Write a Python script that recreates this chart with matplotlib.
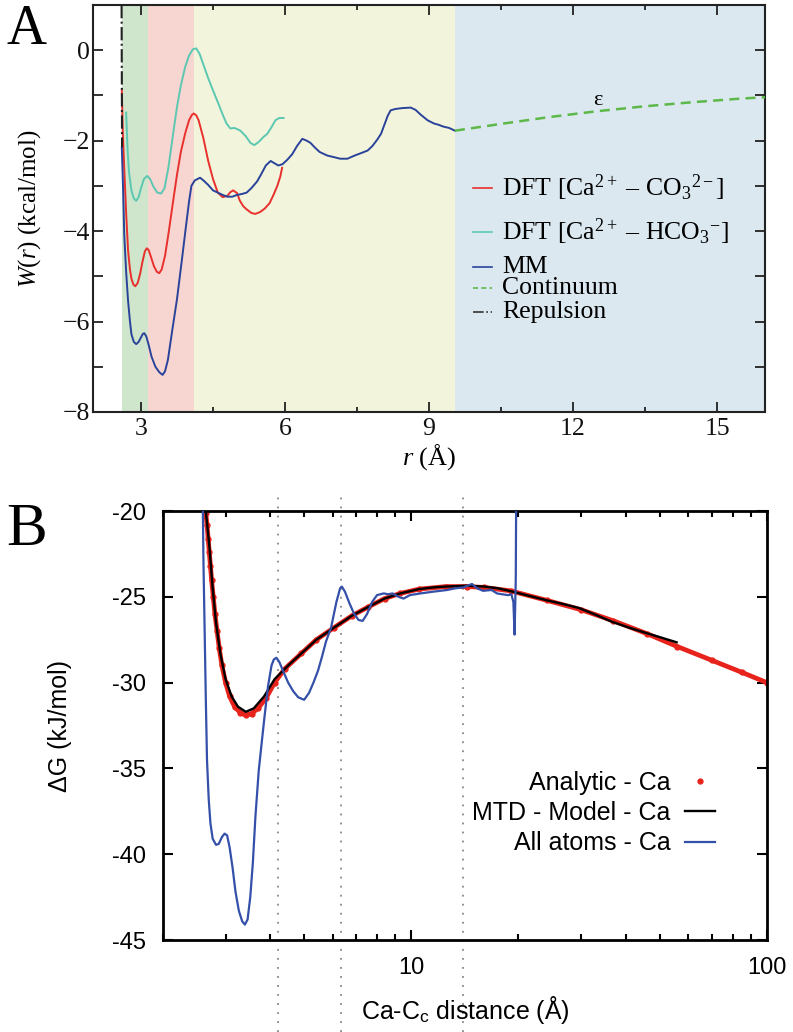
import matplotlib
matplotlib.use("Agg")
import matplotlib.pyplot as plt
from matplotlib.ticker import MultipleLocator, FixedLocator, FuncFormatter, LogLocator, NullFormatter

# ── panel A data: W(r) in kcal/mol ─────────────────────────
region_edges = [2.6, 3.15, 4.1, 9.54, 16.0]

co3_r = [2.60, 2.62, 2.65, 2.69, 2.73, 2.77, 2.80, 2.84, 2.88, 2.93, 2.98, 3.03, 3.08, 3.12,
         3.16, 3.21, 3.27, 3.33, 3.38, 3.43, 3.50, 3.58, 3.67, 3.75, 3.83, 3.92, 4.00, 4.06,
         4.10, 4.15, 4.20, 4.30, 4.40, 4.50, 4.60, 4.70, 4.80, 4.86, 4.92, 5.00, 5.06, 5.13,
         5.20, 5.30, 5.38, 5.48, 5.58, 5.68, 5.76, 5.84, 5.90, 5.94]
co3_w = [-0.89, -1.80, -2.60, -3.60, -4.43, -4.85, -5.05, -5.18, -5.22, -5.15, -4.95, -4.68,
         -4.45, -4.38, -4.42, -4.58, -4.78, -4.90, -4.93, -4.85, -4.55, -4.00, -3.33, -2.75,
         -2.25, -1.84, -1.55, -1.43, -1.40, -1.44, -1.55, -1.95, -2.45, -2.85, -3.15, -3.25,
         -3.22, -3.14, -3.10, -3.16, -3.33, -3.45, -3.52, -3.60, -3.62, -3.58, -3.50, -3.38,
         -3.20, -3.00, -2.80, -2.60]

hco3_r = [2.69, 2.72, 2.75, 2.80, 2.85, 2.90, 2.95, 3.00, 3.06, 3.13, 3.19, 3.26, 3.34, 3.42,
          3.49, 3.57, 3.67, 3.75, 3.83, 3.92, 4.00, 4.08, 4.15, 4.22, 4.30, 4.40, 4.50, 4.60,
          4.70, 4.78, 4.86, 4.95, 5.07, 5.18, 5.28, 5.36, 5.45, 5.55, 5.63, 5.72, 5.80, 5.88,
          5.97]
hco3_w = [-1.38, -2.20, -2.70, -3.10, -3.28, -3.33, -3.25, -3.05, -2.85, -2.78, -2.85, -3.02,
          -3.15, -3.17, -3.05, -2.60, -1.84, -1.25, -0.78, -0.37, -0.12, 0.02, 0.04, -0.08,
          -0.32, -0.62, -0.89, -1.15, -1.42, -1.62, -1.73, -1.72, -1.78, -1.90, -2.05, -2.10,
          -2.03, -1.92, -1.85, -1.70, -1.55, -1.50, -1.50]

mm_r = [2.60, 2.63, 2.65, 2.69, 2.73, 2.77, 2.80, 2.85, 2.90, 2.95, 3.00, 3.04, 3.07, 3.11,
        3.16, 3.22, 3.30, 3.38, 3.45, 3.50, 3.56, 3.65, 3.75, 3.85, 3.93, 4.00, 4.05, 4.12,
        4.23, 4.30, 4.40, 4.50, 4.60, 4.70, 4.80, 4.90, 5.00, 5.10, 5.20, 5.30, 5.42, 5.50,
        5.60, 5.70, 5.78, 5.86, 5.95, 6.05, 6.15, 6.25, 6.36, 6.45, 6.53, 6.62, 6.72, 6.88,
        7.00, 7.15, 7.30, 7.45, 7.60, 7.72, 7.82, 7.92, 8.00, 8.07, 8.14, 8.20, 8.30, 8.45,
        8.62, 8.72, 8.82, 8.97, 9.10, 9.20, 9.30, 9.42, 9.54]
mm_w = [-2.15, -3.20, -4.07, -4.90, -5.54, -6.00, -6.28, -6.45, -6.50, -6.45, -6.35, -6.27,
        -6.26, -6.33, -6.52, -6.78, -7.00, -7.12, -7.18, -7.10, -6.85, -6.20, -5.50, -4.65,
        -3.95, -3.35, -3.00, -2.88, -2.82, -2.88, -2.98, -3.10, -3.15, -3.20, -3.24, -3.24,
        -3.20, -3.18, -3.15, -3.05, -2.90, -2.75, -2.55, -2.45, -2.50, -2.55, -2.52, -2.42,
        -2.30, -2.12, -1.96, -2.00, -2.05, -2.15, -2.25, -2.33, -2.36, -2.40, -2.40, -2.33,
        -2.27, -2.22, -2.12, -1.98, -1.85, -1.65, -1.45, -1.33, -1.30, -1.28, -1.27, -1.32,
        -1.42, -1.55, -1.62, -1.65, -1.69, -1.72, -1.78]

cont_r = [9.54, 10.5, 11.5, 12.5, 13.5, 14.5, 15.5, 16.0]
cont_w = [-1.78, -1.63, -1.48, -1.35, -1.24, -1.15, -1.07, -1.04]

rep_r = [2.595, 2.600, 2.605]
rep_w = [1.0, -0.60, -2.15]

labels_a = [r"DFT [Ca$^{2+}$ – CO$_3$$^{2-}$]", r"DFT [Ca$^{2+}$ – HCO$_3$$^{-}$]",
            "MM", "Continuum", "Repulsion"]

# ── panel B data: ΔG in kJ/mol vs Ca-Cc distance ─────────────
analytic_r = [2.64, 2.66, 2.68, 2.70, 2.72, 2.74, 2.77, 2.80, 2.84, 2.88, 2.93, 3.00, 3.08,
              3.18, 3.30, 3.42, 3.55, 3.70, 3.90, 4.12, 4.40, 4.90, 5.40, 6.05, 6.80, 7.54,
              8.40, 9.30, 10.5, 12.5, 14.3, 16.0, 19.0, 24.0, 30.0, 37.0, 46.0, 56.0, 70.0,
              85.0, 100.0]
analytic_g = [-20.1, -20.8, -21.6, -22.4, -23.2, -24.0, -25.0, -26.0, -27.0, -28.0, -29.0,
              -30.0, -30.8, -31.4, -31.75, -31.9, -31.8, -31.5, -30.9, -30.0, -29.2, -28.3,
              -27.5, -26.8, -26.1, -25.6, -25.1, -24.8, -24.55, -24.4, -24.4, -24.45, -24.65,
              -25.2, -25.75, -26.4, -27.15, -27.9, -28.7, -29.4, -30.0]

mtd_r = [2.64, 2.70, 2.76, 2.82, 2.90, 3.00, 3.12, 3.25, 3.42, 3.60, 3.85, 4.12, 4.50, 4.90,
         5.40, 6.05, 6.80, 7.54, 8.40, 9.30, 10.5, 11.5, 12.5, 14.3, 16.0, 17.5, 19.3, 21.5,
         24.0, 26.5, 29.6, 33.0, 36.6, 41.0, 45.6, 50.0, 55.7]
mtd_g = [-20.0, -22.0, -24.5, -26.5, -28.3, -29.8, -30.8, -31.4, -31.7, -31.5, -30.8, -29.8,
         -29.0, -28.3, -27.5, -26.8, -26.1, -25.6, -25.1, -24.8, -24.55, -24.45, -24.4, -24.35,
         -24.4, -24.5, -24.7, -24.95, -25.2, -25.4, -25.65, -26.05, -26.45, -26.8, -27.1,
         -27.35, -27.65]

atoms_r = [2.59, 2.60, 2.62, 2.64, 2.66, 2.69, 2.72, 2.76, 2.82, 2.87, 2.93, 2.98, 3.03,
           3.08, 3.14, 3.20, 3.27, 3.34, 3.40, 3.46, 3.52, 3.58, 3.64, 3.72, 3.80, 3.86,
           3.95, 4.04, 4.10, 4.17, 4.25, 4.35, 4.50, 4.65, 4.80, 4.99, 5.15, 5.30, 5.46,
           5.60, 5.75, 5.94, 6.15, 6.30, 6.37, 6.50, 6.70, 6.90, 7.10, 7.29, 7.50, 7.75,
           8.00, 8.36, 8.60, 8.85, 9.20, 9.50, 9.90, 10.6, 11.5, 12.6, 13.3, 14.0, 14.4,
           14.8, 15.3, 15.9, 16.8, 17.4, 18.0, 18.7, 19.1, 19.35, 19.5, 19.65, 19.75]
atoms_g = [-20.0, -23.0, -27.0, -31.0, -34.5, -36.8, -38.2, -39.1, -39.45, -39.4, -39.0,
           -38.8, -38.9, -39.6, -40.8, -42.2, -43.3, -43.9, -44.1, -43.8, -42.5, -40.5,
           -37.8, -35.1, -33.3, -32.0, -30.2, -29.0, -28.65, -28.55, -28.8, -29.3, -30.0,
           -30.5, -30.85, -31.0, -30.6, -30.0, -29.3, -28.5, -27.6, -26.8, -25.3, -24.5,
           -24.4, -24.7, -25.4, -26.0, -26.35, -26.4, -26.0, -25.3, -24.9, -24.8, -24.85,
           -24.8, -25.0, -25.1, -24.9, -24.8, -24.7, -24.6, -24.5, -24.45, -24.35, -24.25,
           -24.5, -24.65, -24.6, -24.8, -24.85, -24.9, -24.85, -25.3, -27.2, -24.0, -15.0]

marker_r = [4.2, 6.35, 14.0]
labels_b = ["Analytic - Ca", "MTD - Model - Ca", "All atoms - Ca"]

plt.rcParams["mathtext.fontset"] = "custom"
plt.rcParams["mathtext.rm"] = "Liberation Serif"
plt.rcParams["mathtext.it"] = "Liberation Serif:italic"
plt.rcParams["mathtext.sf"] = "Liberation Sans"

SERIF = "Liberation Serif"
SANS = "Liberation Sans"

fig = plt.figure(figsize=(7.93, 10.32), dpi=100)


# ── A. W(r) panel ─────────────────────────────────────────
def draw_panel_a():
    ax = fig.add_axes([0.1173, 0.6008, 0.8474, 0.3944])
    span_colors = ["#cfe5cc", "#f7d5d0", "#f3f4dc", "#dbe8ef"]
    for lo, hi, c in zip(region_edges[:-1], region_edges[1:], span_colors):
        ax.axvspan(lo, hi, color=c, lw=0, zorder=0)

    red, teal, blue, green = "#e8302c", "#5cc8b2", "#2a439a", "#5cb848"
    kw = dict(lw=1.4, zorder=3, solid_joinstyle="round")
    ax.plot(co3_r, co3_w, color=red, **kw)
    ax.plot(hco3_r, hco3_w, color=teal, **kw)
    ax.plot(mm_r, mm_w, color=blue, **kw)
    ax.plot(cont_r, cont_w, color=green, lw=1.8, ls=(0, (4, 2.5)), zorder=3)
    ax.plot(rep_r, rep_w, color="#222222", lw=1.5, ls="-.", zorder=3)
    ax.text(12.52, -1.22, "ε", fontsize=16, family=SERIF, ha="center", va="baseline")

    ax.set_xlim(2, 16)
    ax.set_ylim(-8, 1)
    ax.xaxis.set_major_locator(FixedLocator([3, 6, 9, 12, 15]))
    ax.xaxis.set_minor_locator(FixedLocator([4.5, 7.5, 10.5, 13.5]))
    ax.yaxis.set_major_locator(MultipleLocator(2))
    ax.yaxis.set_minor_locator(MultipleLocator(1))
    ax.tick_params(which="both", direction="in", top=True, right=True, width=1.2,
                   labelsize=18.5, colors="#111111")
    ax.tick_params(axis="y", which="both", length=7, pad=2)
    ax.tick_params(axis="x", which="major", length=7, pad=4)
    ax.tick_params(axis="x", which="minor", length=3.6)
    for lab in ax.get_xticklabels() + ax.get_yticklabels():
        lab.set_family(SERIF)
    for sp in ax.spines.values():
        sp.set_linewidth(1.5)
        sp.set_color("#222222")

    ax.set_xlabel(r"$r$ (Å)", fontsize=19, family=SERIF)
    ax.xaxis.set_label_coords(0.5, -0.075)
    ax.set_ylabel(r"$W$($r$) (kcal/mol)", fontsize=18, family=SERIF)
    ax.yaxis.set_label_coords(-0.074, 0.5)

    # legend drawn by hand to keep the uneven row spacing
    styles = [dict(color=red, ls="-"), dict(color=teal, ls="-"), dict(color=blue, ls="-"),
              dict(color=green, ls=(0, (3, 2))), dict(color="#333333", ls="-.")]
    rows = [0.550, 0.442, 0.356, 0.305, 0.246]
    for lab, st, y in zip(labels_a, styles, rows):
        ax.plot([0.565, 0.594], [y, y], transform=ax.transAxes, lw=1.2, **st)
        ax.text(0.609, y, lab, transform=ax.transAxes, fontsize=18.5, family=SERIF,
                va="center", ha="left")

    fig.text(0.034, 0.971, "A", fontsize=40, family=SERIF, ha="center", va="center")


# ── B. ΔG panel ───────────────────────────────────────────
def draw_panel_b():
    ax = fig.add_axes([0.2055, 0.0891, 0.7617, 0.4157])
    red, blue = "#e8231c", "#3450a8"

    for r in marker_r:
        ax.axvline(r, ymin=-0.215, ymax=1.035, clip_on=False, color="#888888",
                   lw=1.3, ls=(0, (1, 4)), zorder=1)

    ax.plot(analytic_r, analytic_g, color=red, lw=3.4, zorder=2, solid_capstyle="round")
    ax.plot(analytic_r, analytic_g, ls="none", marker="o", ms=3.5, color=red, zorder=2,
            label=labels_b[0])
    ax.plot(mtd_r, mtd_g, color="black", lw=1.7, zorder=3, label=labels_b[1])
    ax.plot(atoms_r, atoms_g, color=blue, lw=1.6, zorder=4, label=labels_b[2],
            solid_joinstyle="round")

    ax.set_xscale("log")
    ax.set_xlim(2, 100)
    ax.set_ylim(-45, -20)
    ax.xaxis.set_major_locator(FixedLocator([10, 100]))
    ax.xaxis.set_minor_locator(LogLocator(base=10, subs=range(2, 10)))
    ax.xaxis.set_minor_formatter(NullFormatter())
    ax.xaxis.set_major_formatter(FuncFormatter(lambda v, p: f"{v:g}"))
    ax.yaxis.set_major_locator(MultipleLocator(5))
    ax.yaxis.set_major_formatter(FuncFormatter(lambda v, p: f"{v:g}"))
    ax.tick_params(which="both", direction="in", top=True, right=True, width=1.5)
    ax.tick_params(which="major", length=7, labelsize=17, pad=12)
    ax.tick_params(which="minor", length=4.5)
    for lab in ax.get_xticklabels() + ax.get_yticklabels():
        lab.set_family(SANS)
    for sp in ax.spines.values():
        sp.set_linewidth(2.0)

    ax.set_xlabel(r"Ca-C$_{\mathsf{c}}$ distance (Å)", fontsize=18, family=SANS)
    ax.xaxis.set_label_coords(0.5, -0.125)
    ax.set_ylabel("ΔG (kJ/mol)", fontsize=18, family=SANS)
    ax.yaxis.set_label_coords(-0.151, 0.5)

    leg = ax.legend(loc="lower right", bbox_to_anchor=(0.952, 0.145), frameon=False,
                    markerfirst=False, handlelength=1.2, handletextpad=0.6,
                    labelspacing=0.25, numpoints=1, prop={"family": SANS, "size": 18})
    leg.set_zorder(5)

    fig.text(0.033, 0.486, "B", fontsize=44, family=SERIF, ha="center", va="center")


draw_panel_a()
draw_panel_b()

fig.savefig("out.png", dpi=100)
plt.close(fig)
